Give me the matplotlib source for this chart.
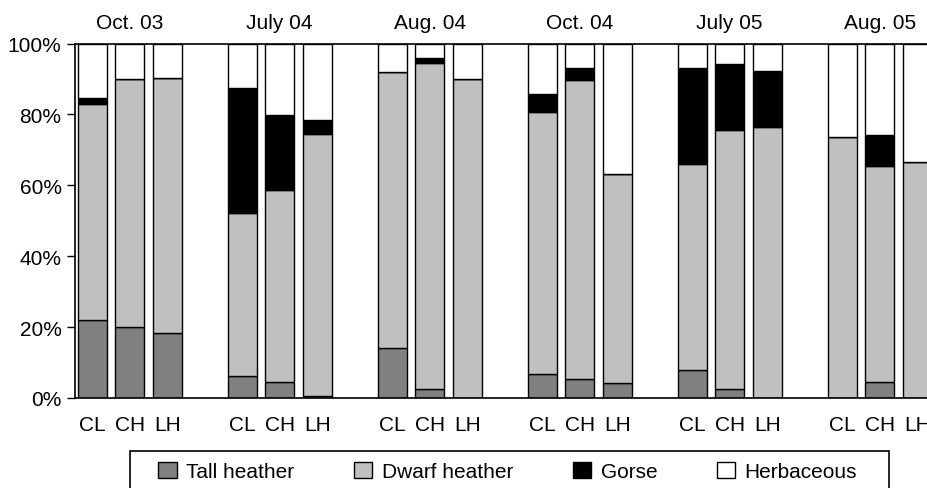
import matplotlib
matplotlib.use("Agg")
import matplotlib.pyplot as plt
from matplotlib.patches import Rectangle, Patch
from matplotlib.ticker import FuncFormatter
import numpy as np

plt.rcParams['font.family'] = ['Liberation Sans', 'DejaVu Sans']

dates = ["Oct. 03", "July 04", "Aug. 04", "Oct. 04", "July 05", "Aug. 05"]
sites = ["CL", "CH", "LH"]
series = ["Tall heather", "Dwarf heather", "Gorse", "Herbaceous"]

# percentages per bar, in order date x site
tall_heather = [22.0, 19.9, 18.3,   6.2, 4.5, 0.5,   14.1, 2.6, 0.0,
                6.8, 5.3, 4.1,      7.9, 2.6, 0.0,   0.0, 4.5, 0.0]
dwarf_heather = [60.8, 70.0, 72.1,  46.1, 54.1, 74.0,  78.0, 91.9, 89.9,
                 73.9, 84.5, 59.0,  58.2, 72.9, 76.5,  73.7, 61.0, 66.7]
gorse = [1.8, 0.0, 0.0,   35.1, 21.3, 3.9,   0.0, 1.3, 0.0,
         5.1, 3.2, 0.0,   26.9, 18.7, 15.7,  0.0, 8.7, 0.0]
herbaceous = [15.4, 10.1, 9.6,  12.6, 20.1, 21.6,  7.9, 4.2, 10.1,
              14.2, 7.0, 36.9,  7.0, 5.8, 7.8,    26.3, 25.8, 33.3]

colors = ["#808080", "#c0c0c0", "#000000", "#ffffff"]
values = [tall_heather, dwarf_heather, gorse, herbaceous]

W, H = 928, 489
fig = plt.figure(figsize=(W / 100, H / 100), dpi=100)

unit = 37.5
x0 = 74.7
xmin = -0.467
xmax = 23.0
ax_w = (xmax - xmin) * unit
ax = fig.add_axes([x0 / W, 1 - 399 / H, ax_w / W, (399 - 44.5) / H])

pos = np.array([g * 4 + i for g in range(len(dates)) for i in range(len(sites))], dtype=float)
bottom = np.zeros(len(pos))
for vals, c in zip(values, colors):
    v = np.array(vals)
    ax.bar(pos, v, bottom=bottom, width=0.77, color=c, edgecolor="black", linewidth=1.0)
    bottom += v

ax.set_xlim(xmin, xmax)
ax.set_ylim(0, 100)
ax.set_yticks([0, 20, 40, 60, 80, 100])
ax.yaxis.set_major_formatter(FuncFormatter(lambda v, p: f"{int(v)}%"))
ax.tick_params(axis="y", length=6, width=1, pad=3.5, labelsize=15, direction="out")
ax.set_xticks(pos)
ax.set_xticklabels(sites * len(dates))
ax.tick_params(axis="x", length=0, pad=12, labelsize=15)
for s in ax.spines.values():
    s.set_linewidth(1.2)

for g, d in enumerate(dates):
    ax.annotate(d, xy=(g * 4 + 1, 100), xycoords=("data", "data"),
                xytext=(0, 11), textcoords="offset points",
                ha="center", va="baseline", fontsize=15)

# legend box
fig.patches.append(Rectangle((130 / W, -0.05), (889 - 130) / W, (1 - 452 / H) + 0.05,
                             transform=fig.transFigure, fill=False,
                             edgecolor="black", linewidth=1.2))
handles = [Patch(facecolor=c, edgecolor="black", linewidth=1.0) for c in colors]
fig.legend(handles, series, loc="center left", bbox_to_anchor=(158 / W, 1 - 472.5 / H),
           ncol=4, frameon=False, fontsize=15, handlelength=0.9, handleheight=0.85,
           handletextpad=0.45, columnspacing=2.85, borderpad=0, borderaxespad=0)

fig.savefig("out.png", dpi=100)
